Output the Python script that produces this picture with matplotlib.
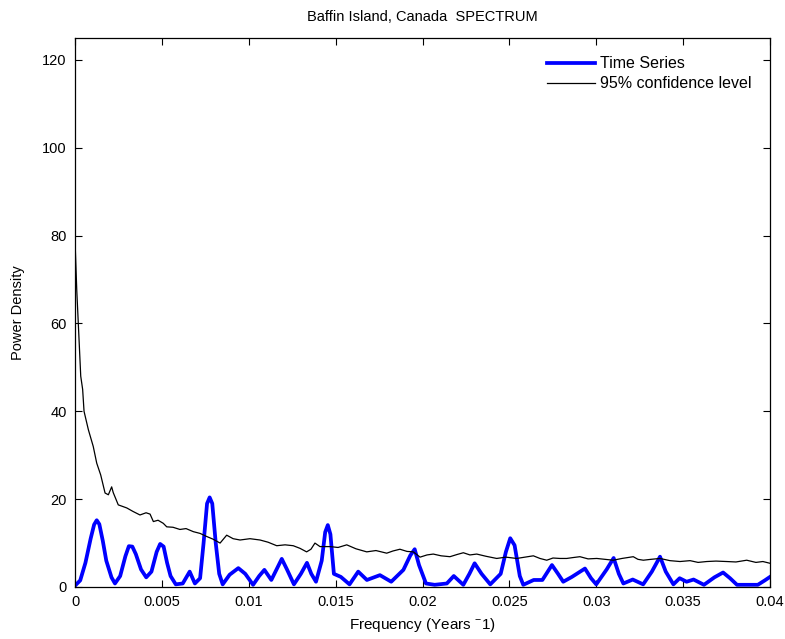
import matplotlib
matplotlib.use('Agg')
import matplotlib.pyplot as plt
import numpy as np

plt.rcParams['font.family'] = ['Liberation Sans', 'DejaVu Sans']
plt.rcParams['mathtext.default'] = 'regular'

# time series spectrum (freq, power)
ts_freq = [0, 0.0003, 0.0006, 0.0009, 0.0011, 0.00125, 0.0014, 0.0016, 0.0018, 0.0021, 0.0023, 0.0026,
           0.0029, 0.0031, 0.0033, 0.0035, 0.0038, 0.0041, 0.0044, 0.0047, 0.0049, 0.0051, 0.0053, 0.0055,
           0.0058, 0.0062, 0.0066, 0.0069, 0.0072, 0.0074, 0.0076, 0.00775, 0.0079, 0.0081, 0.0083, 0.0085,
           0.0089, 0.0094, 0.0098, 0.01025, 0.0106, 0.0109, 0.0113, 0.0116, 0.0119, 0.0122,
           0.0126, 0.0130, 0.01335, 0.0136, 0.01387, 0.0142, 0.0144, 0.01455, 0.0147, 0.0149, 0.0153,
           0.0158, 0.0163, 0.0168, 0.01755, 0.0182, 0.0189, 0.0193, 0.01955, 0.0198, 0.0202, 0.0207,
           0.0214, 0.0218, 0.02235, 0.0227, 0.0230, 0.0234, 0.0239, 0.0245, 0.0248, 0.02505,
           0.0253, 0.0256, 0.0258, 0.0264, 0.0269, 0.02745, 0.0278, 0.0281, 0.0286, 0.02935,
           0.0297, 0.0300, 0.0306, 0.0310, 0.0313, 0.03156, 0.0321, 0.0327, 0.0332, 0.03367,
           0.0340, 0.03444, 0.0348, 0.0352, 0.0356, 0.0362, 0.0368, 0.0373, 0.0377, 0.0381,
           0.0393, 0.0397, 0.0400]
ts_power = [0.3, 1.5, 5.5, 11, 14.2, 15.2, 14.3, 10.5, 6, 2.2, 0.8, 2.5,
            7, 9.3, 9.2, 7.5, 4, 2.2, 3.5, 8, 9.8, 9.2, 5.5, 2.5,
            0.6, 0.8, 3.5, 0.8, 2, 10, 19, 20.4, 19, 10, 3, 0.6,
            2.8, 4.3, 3, 0.5, 2.5, 3.9, 1.6, 4, 6.4, 4,
            0.6, 3, 5.5, 3, 1.2, 6, 12.5, 14.1, 12, 3, 2.3,
            0.6, 3.5, 1.6, 2.7, 1.2, 3.9, 7.2, 8.6, 5, 0.8, 0.5,
            0.8, 2.5, 0.5, 3, 5.4, 3, 0.6, 3, 8, 11.1,
            9.5, 2.5, 0.5, 1.6, 1.6, 5, 3, 1.2, 2.3, 4.2,
            2, 0.6, 4, 6.6, 3, 0.8, 1.7, 0.6, 3.5, 6.9,
            3.5, 0.6, 2, 1.2, 1.7, 0.5, 2.2, 3.3, 2, 0.5,
            0.5, 1.5, 2.3]

# 95% confidence level
conf_freq = [0, 0.0001, 0.00019, 0.00033, 0.00044, 0.00052, 0.00077, 0.00105, 0.00125, 0.00148,
             0.00173, 0.00192, 0.00211, 0.0022, 0.00249, 0.00298, 0.00334, 0.00374, 0.00409, 0.00432,
             0.00451, 0.00478, 0.00508, 0.00528, 0.00564, 0.00604, 0.00639, 0.00681, 0.0072, 0.00758,
             0.00794, 0.00835, 0.00873, 0.0091, 0.0095, 0.01007, 0.01065, 0.01111, 0.01161, 0.01209,
             0.01256, 0.01295, 0.01333, 0.01358, 0.01381, 0.0141, 0.01468, 0.01514, 0.01564, 0.01617,
             0.01679, 0.01732, 0.01794, 0.0183, 0.0187, 0.01911, 0.01947, 0.01986, 0.02026, 0.02062,
             0.02107, 0.02158, 0.02199, 0.02235, 0.02273, 0.02312, 0.02365, 0.02427, 0.0248, 0.02542,
             0.0259, 0.02638, 0.02676, 0.02715, 0.02751, 0.02791, 0.0283, 0.02866, 0.02906, 0.02953,
             0.03003, 0.0305, 0.03098, 0.03148, 0.03213, 0.0324, 0.03271, 0.03315, 0.03367, 0.03424,
             0.03482, 0.0354, 0.03586, 0.03636, 0.03689, 0.0375, 0.03804, 0.03866, 0.03919, 0.03959,
             0.0400]
conf_power = [79, 67.7, 60, 48, 45, 40, 35.8, 32, 28.2, 25.5,
              21.4, 21, 22.8, 21.5, 18.7, 18, 17.2, 16.4, 16.9, 16.6,
              14.9, 15.2, 14.5, 13.7, 13.6, 13.1, 13.3, 12.6, 12.2, 11.5,
              10.9, 10.0, 11.8, 11.0, 10.7, 11.0, 10.7, 10.2, 9.4, 9.6,
              9.4, 8.8, 8.0, 8.6, 10.0, 9.2, 9.2, 9.0, 9.6, 8.7,
              8.0, 8.3, 7.7, 8.2, 8.6, 8.1, 8.0, 6.8, 7.3, 7.5,
              7.1, 6.9, 7.4, 7.8, 7.3, 7.5, 7.0, 6.5, 6.8, 6.5,
              6.8, 7.1, 6.5, 6.1, 6.6, 6.5, 6.5, 6.7, 6.9, 6.4,
              6.5, 6.3, 6.1, 6.5, 6.9, 6.3, 6.1, 6.3, 6.5, 6.0,
              5.8, 6.0, 5.6, 5.8, 5.9, 5.8, 5.7, 6.1, 5.6, 5.8,
              5.4]

x_ticks = [0, 0.005, 0.01, 0.015, 0.02, 0.025, 0.03, 0.035, 0.04]
x_ticklabels = ['0', '0.005', '0.01', '0.015', '0.02', '0.025', '0.03', '0.035', '0.04']
y_ticks = [0, 20, 40, 60, 80, 100, 120]

fig = plt.figure(figsize=(7.85, 6.39), dpi=100)
ax = fig.add_axes([75 / 785, 52 / 639, 695 / 785, 549 / 639])

ax.plot(ts_freq, ts_power, color='#0000ff', lw=2.7, label='Time Series')
ax.plot(conf_freq, conf_power, color='black', lw=0.9, label='95% confidence level')

ax.set_xlim(0, 0.04)
ax.set_ylim(0, 125)
ax.set_xticks(x_ticks)
ax.set_xticklabels(x_ticklabels)
ax.set_yticks(y_ticks)
ax.tick_params(direction='in', length=5, width=0.8, labelsize=10.5,
               top=True, right=True, pad=6)
for s in ax.spines.values():
    s.set_linewidth(0.9)

ax.set_title('Baffin Island, Canada  SPECTRUM', fontsize=10.5, pad=12)
ax.set_xlabel('Frequency (Years $^{-}$1)', fontsize=11, labelpad=5)
ax.set_ylabel('Power Density', fontsize=10.5, labelpad=12)

ax.legend(loc='upper right', frameon=False, fontsize=11.5, handlelength=3.0,
          handletextpad=0.3, borderaxespad=0.75, labelspacing=0.3)

fig.savefig('out.png', dpi=100)
